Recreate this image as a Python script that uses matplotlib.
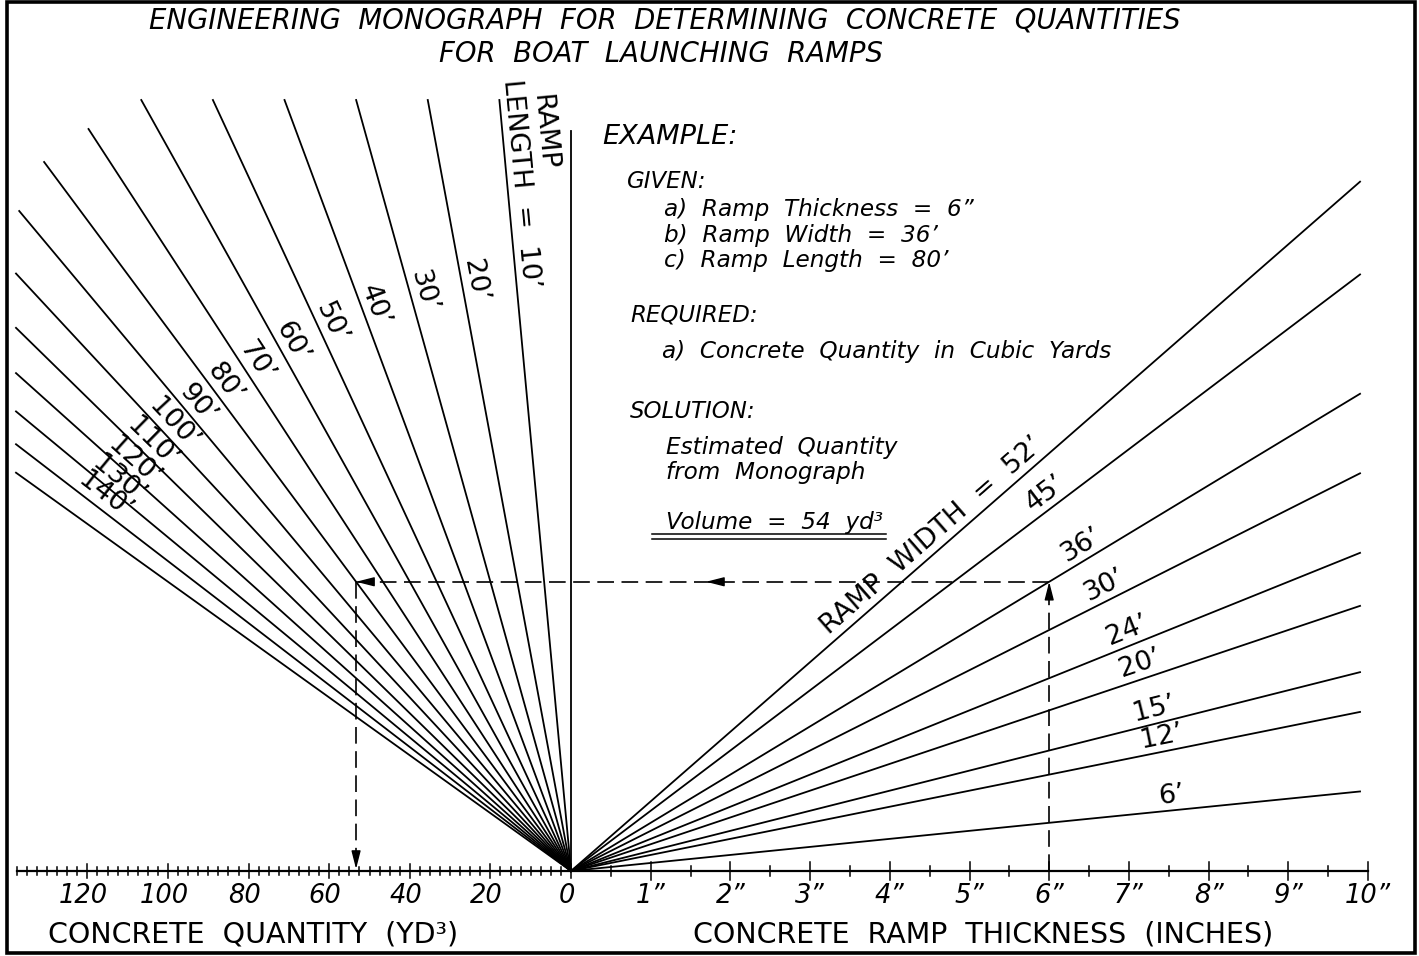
import numpy as np
import matplotlib.pyplot as plt
from matplotlib.patches import Rectangle

plt.rcParams['font.family'] = ['DejaVu Sans']

# chart values
widths = [6, 12, 15, 20, 24, 30, 36, 45, 52]  # ramp width (ft)
width_labels = ["6’", "12’", "15’", "20’", "24’", "30’", "36’", "45’", "RAMP  WIDTH  =  52’"]
lengths = [10, 20, 30, 40, 50, 60, 70, 80, 90, 100, 110, 120, 130, 140, 150]  # ramp length (ft)
length_labels = ["10’", "20’", "30’", "40’", "50’", "60’", "70’", "80’", "90’",
                 "100’", "110’", "120’", "130’", "140’", ""]
thickness_ticks = [0, 1, 2, 3, 4, 5, 6, 7, 8, 9, 10]  # inches
thickness_labels = ["", "1”", "2”", "3”", "4”", "5”", "6”", "7”", "8”", "9”", "10”"]
quantity_ticks = [0, 20, 40, 60, 80, 100, 120]  # cubic yards
quantity_max = 137.5

# worked example
ex_thick, ex_width, ex_length = 6, 36, 80
ex_volume = 54

# drawing scales (units are screen pixels)
IN_PX = 79.7    # per inch of thickness
YD_PX = 4.03    # per cubic yard
K_PX = 1.339    # height per (inch * ft)
T_END = 9.9
LEFT_EDGE = -555


def x_thick(t):
    return t * IN_PX


def x_qty(v):
    return -v * YD_PX


def height(t, w):
    return K_PX * t * w


def qty_slope(L):
    # horizontal px per px of height for a ramp length line
    return L * YD_PX / (324 * K_PX)


fig = plt.figure(figsize=(14.19, 9.56), dpi=100)
ax = fig.add_axes([0, 0, 1, 1])
ax.set_xlim(-571, 1419 - 571)
ax.set_ylim(871 - 956, 871)
ax.axis('off')

lw = 1.3
lab_fs = 19.5
# frame
ax.add_patch(Rectangle((-564, -82), 1408, 951, fill=False, lw=2.6, ec='k'))

# ramp width lines (right side)
for w, lab in zip(widths, width_labels):
    ax.plot([0, x_thick(T_END)], [0, height(T_END, w)], color='k', lw=lw)
    ang = np.arctan2(K_PX * w, IN_PX)
    if lab.startswith("RAMP"):
        r, ha = 634, 'right'
    else:
        r, ha = 605, 'center'
    ax.text(r * np.cos(ang), r * np.sin(ang) + 2, lab, rotation=np.degrees(ang),
            rotation_mode='anchor', ha=ha, va='bottom', fontsize=lab_fs)

# ramp length lines (left side)
top_heights = [771, 771, 771, 771, 771, 771, 742, 709, 660]
for i, (L, lab) in enumerate(zip(lengths, length_labels)):
    s = qty_slope(L)
    h_top = top_heights[i] if i < len(top_heights) else -LEFT_EDGE / s
    ax.plot([0, -s * h_top], [0, h_top], color='k', lw=lw)
    n = np.hypot(s, 1)
    ang = np.degrees(np.arctan2(-1, s))
    if L == 10:
        r = 794
        ax.text(-s * r / n, r / n, "LENGTH  =  " + lab, rotation=ang,
                rotation_mode='anchor', ha='left', va='bottom', fontsize=lab_fs)
        r = 776
        ax.text(-s * r / n + 28, r / n + 3, "RAMP", rotation=ang,
                rotation_mode='anchor', ha='left', va='bottom', fontsize=lab_fs)
    elif lab:
        r = 598
        ax.text(-s * r / n, r / n, lab, rotation=ang,
                rotation_mode='anchor', ha='center', va='bottom', fontsize=lab_fs)

# zero line
ax.plot([0, 0], [0, 740], color='k', lw=lw)

# axis
ax.plot([x_qty(quantity_max), x_thick(10)], [0, 0], color='k', lw=1.6)
for v in np.arange(0, quantity_max + 0.1, 2.5):
    tl = 7 if v % 20 == 0 else 4
    ax.plot([x_qty(v), x_qty(v)], [-tl, tl], color='k', lw=1.1)
for v in quantity_ticks:
    ax.text(x_qty(v) - 4, -25, str(v), ha='center', va='center',
            fontsize=18.5, style='italic')
for t in np.arange(0.5, 10.01, 0.5):
    tl = 9 if t % 1 == 0 else 5
    ax.plot([x_thick(t), x_thick(t)], [-tl, tl], color='k', lw=1.1)
for t, lab in zip(thickness_ticks, thickness_labels):
    if lab:
        ax.text(x_thick(t), -25, lab, ha='center', va='center',
                fontsize=18.5, style='italic')

ax.text(-318, -63, "CONCRETE  QUANTITY  (YD³)", ha='center', va='center', fontsize=20.5)
ax.text(412, -63, "CONCRETE  RAMP  THICKNESS  (INCHES)", ha='center', va='center', fontsize=20.5)

# title
fig.text(665 / 1419, 1 - 21 / 956,
         "ENGINEERING  MONOGRAPH  FOR  DETERMINING  CONCRETE  QUANTITIES",
         ha='center', va='center', fontsize=19.8, style='italic')
fig.text(661 / 1419, 1 - 54 / 956, "FOR  BOAT  LAUNCHING  RAMPS",
         ha='center', va='center', fontsize=19.8, style='italic')

# example block (x, y in pixels)
example_lines = [
    ("EXAMPLE:", 602, 137, 19.5),
    ("GIVEN:", 627, 181, 16.5),
    ("a)  Ramp  Thickness  =  %d”" % ex_thick, 664, 209, 16.7),
    ("b)  Ramp  Width  =  %d’" % ex_width, 664, 235, 16.7),
    ("c)  Ramp  Length  =  %d’" % ex_length, 664, 260, 16.7),
    ("REQUIRED:", 630, 315, 16.5),
    ("a)  Concrete  Quantity  in  Cubic  Yards", 662, 351, 16.7),
    ("SOLUTION:", 630, 411, 16.5),
    ("Estimated  Quantity", 666, 447, 16.7),
    ("from  Monograph", 666, 472, 16.7),
    ("Volume  =  %d  yd³" % ex_volume, 666, 523, 16.7),
]
for txt, px, py, fs in example_lines:
    ax.text(px - 571, 871 - py, txt, ha='left', va='center', fontsize=fs, style='italic')
ax.plot([652 - 571, 886 - 571], [871 - 534, 871 - 534], color='k', lw=1.1)
ax.plot([652 - 571, 886 - 571], [871 - 538.5, 871 - 538.5], color='k', lw=1.1)

# example path through the monograph
ex_x = x_thick(ex_thick)
ex_h = height(ex_thick, ex_width)
ex_q = x_qty(ex_h * ex_length / (324 * K_PX))
dash = dict(color='k', lw=1.2, linestyle=(0, (10, 4.5)))
ax.plot([ex_x, ex_x], [0, ex_h], **dash)
ax.plot([ex_x, ex_q], [ex_h, ex_h], **dash)
ax.plot([ex_q, ex_q], [ex_h, 0], **dash)

arrow = dict(arrowstyle='-|>,head_length=1.1,head_width=0.28', color='k',
             lw=1.0, shrinkA=0, shrinkB=0)
for tip, tail in [((ex_x, ex_h), (ex_x, ex_h - 15)),
                  ((135, ex_h), (150, ex_h)),
                  ((ex_q, ex_h), (ex_q + 15, ex_h)),
                  ((ex_q, 2), (ex_q, 17))]:
    ax.annotate("", xy=tip, xytext=tail, arrowprops=arrow)

fig.savefig("out.png", dpi=100)
